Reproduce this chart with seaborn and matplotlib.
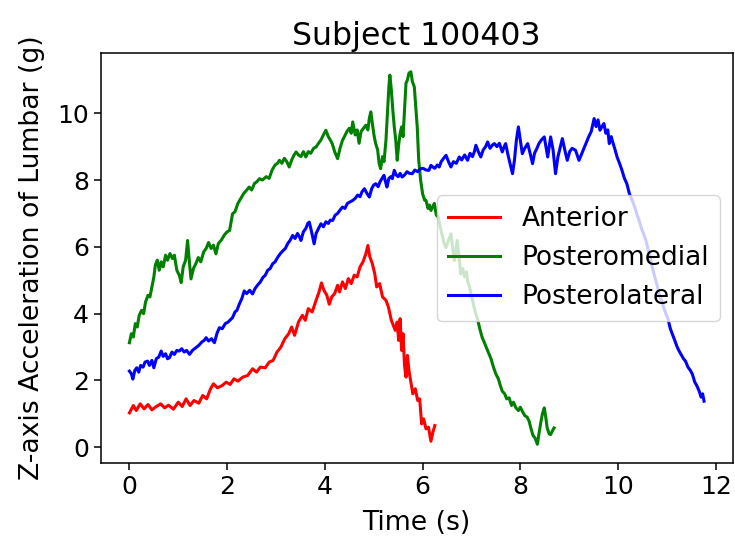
import numpy as np
import pandas as pd
import matplotlib
matplotlib.use("Agg")
import matplotlib.pyplot as plt
import seaborn as sns

# Anterior reach
anterior_t = [0.00, 0.08, 0.14, 0.22, 0.30, 0.38, 0.46, 0.55, 0.64, 0.72, 0.80, 0.90,
              1.00, 1.08, 1.16, 1.24, 1.32, 1.42, 1.50, 1.58, 1.66, 1.72, 1.80, 1.90,
              1.98, 2.06, 2.14, 2.22, 2.32, 2.42, 2.52, 2.60, 2.68, 2.78, 2.86, 2.94,
              3.02, 3.10, 3.18, 3.26, 3.32, 3.38, 3.46, 3.54, 3.60, 3.66, 3.74, 3.82,
              3.88, 3.93, 3.98, 4.04, 4.09, 4.14, 4.20, 4.26, 4.30, 4.36, 4.42, 4.48,
              4.54, 4.60, 4.66, 4.72, 4.78, 4.84, 4.88, 4.92, 4.97, 5.02, 5.06, 5.12,
              5.18, 5.25, 5.30, 5.36, 5.40, 5.44, 5.48, 5.51, 5.54, 5.57, 5.60, 5.63,
              5.66, 5.69, 5.72, 5.76, 5.80, 5.85, 5.90, 5.94, 5.98, 6.02, 6.07, 6.12,
              6.17, 6.21, 6.25]
anterior_g = [1.03, 1.25, 1.10, 1.30, 1.15, 1.28, 1.12, 1.22, 1.30, 1.18, 1.26, 1.14,
              1.35, 1.22, 1.45, 1.25, 1.40, 1.32, 1.55, 1.45, 1.75, 1.90, 1.78, 1.85,
              1.95, 1.88, 2.05, 1.98, 2.10, 2.15, 2.35, 2.25, 2.40, 2.38, 2.55, 2.60,
              2.85, 3.00, 3.25, 3.40, 3.60, 3.35, 3.75, 3.95, 3.80, 4.15, 4.05, 4.40,
              4.65, 4.92, 4.70, 4.55, 4.28, 4.50, 4.60, 4.85, 4.65, 4.95, 4.75, 5.05,
              4.90, 5.15, 5.10, 5.40, 5.55, 5.80, 6.04, 5.70, 5.50, 5.20, 4.80, 4.90,
              4.50, 4.40, 4.20, 3.80, 3.65, 3.50, 3.75, 3.20, 3.85, 2.90, 3.40, 2.45,
              2.10, 2.75, 2.30, 1.95, 1.60, 1.75, 1.40, 1.45, 0.70, 0.85, 0.55, 0.60,
              0.18, 0.45, 0.65]

# Posteromedial reach
posteromedial_t = [0.00, 0.04, 0.08, 0.12, 0.16, 0.20, 0.25, 0.29, 0.33, 0.38, 0.42, 0.46,
                   0.50, 0.53, 0.57, 0.61, 0.65, 0.69, 0.74, 0.78, 0.83, 0.88, 0.92, 0.97,
                   1.02, 1.06, 1.10, 1.15, 1.19, 1.23, 1.26, 1.31, 1.36, 1.41, 1.46, 1.52,
                   1.57, 1.62, 1.67, 1.72, 1.77, 1.82, 1.88, 1.94, 2.00, 2.05, 2.11, 2.16,
                   2.22, 2.28, 2.34, 2.40, 2.45, 2.50, 2.56, 2.61, 2.66, 2.72, 2.80, 2.86,
                   2.92, 2.98, 3.03, 3.07, 3.12, 3.17, 3.22, 3.27, 3.32, 3.37, 3.41, 3.46,
                   3.51, 3.56, 3.61, 3.66, 3.71, 3.77, 3.82, 3.87, 3.92, 3.97, 4.02, 4.07,
                   4.11, 4.15, 4.20, 4.26, 4.31, 4.36, 4.40, 4.45, 4.50, 4.54, 4.57, 4.62,
                   4.66, 4.70, 4.74, 4.79, 4.84, 4.88, 4.91, 4.94, 4.98, 5.01, 5.04, 5.08,
                   5.11, 5.14, 5.18, 5.21, 5.25, 5.28, 5.31, 5.33, 5.36, 5.39, 5.42, 5.45,
                   5.48, 5.51, 5.54, 5.57, 5.60, 5.63, 5.66, 5.69, 5.72, 5.76, 5.79, 5.83,
                   5.86, 5.89, 5.92, 5.96, 6.00, 6.04, 6.07, 6.11, 6.14, 6.17, 6.20, 6.24,
                   6.28, 6.32, 6.36, 6.40, 6.44, 6.48, 6.53, 6.58, 6.62, 6.65, 6.68, 6.71,
                   6.75, 6.78, 6.82, 6.86, 6.90, 6.92, 6.96, 6.99, 7.03, 7.06, 7.09, 7.13,
                   7.17, 7.22, 7.26, 7.30, 7.36, 7.40, 7.45, 7.50, 7.55, 7.59, 7.63, 7.68,
                   7.72, 7.77, 7.82, 7.86, 7.91, 7.96, 8.00, 8.04, 8.09, 8.14, 8.18, 8.22,
                   8.26, 8.30, 8.35, 8.38, 8.42, 8.45, 8.49, 8.52, 8.55, 8.59, 8.62, 8.66,
                   8.69]
posteromedial_g = [3.13, 3.40, 3.30, 3.70, 3.60, 3.95, 4.10, 4.00, 4.35, 4.55, 4.50, 4.80,
                   5.10, 5.45, 5.60, 5.30, 5.55, 5.40, 5.75, 5.60, 5.80, 5.65, 5.75, 5.30,
                   5.15, 4.93, 5.40, 5.60, 6.19, 5.50, 5.04, 5.35, 5.50, 5.68, 5.55, 5.85,
                   5.95, 6.13, 5.95, 6.05, 5.79, 6.10, 6.20, 6.35, 6.45, 6.49, 6.99, 7.05,
                   7.30, 7.45, 7.60, 7.70, 7.79, 7.70, 7.90, 7.95, 8.04, 8.00, 8.10, 8.05,
                   8.30, 8.45, 8.50, 8.59, 8.50, 8.65, 8.55, 8.39, 8.60, 8.75, 8.84, 8.75,
                   8.70, 8.85, 8.69, 8.85, 8.80, 8.95, 8.99, 9.10, 9.20, 9.35, 9.49, 9.30,
                   9.20, 9.09, 8.85, 8.64, 8.95, 9.19, 9.30, 9.45, 9.55, 9.40, 9.74, 9.35,
                   9.50, 9.10, 9.45, 9.55, 9.64, 9.50, 9.85, 10.04, 9.60, 9.30, 9.09, 8.90,
                   8.50, 8.34, 8.70, 8.55, 9.19, 10.00, 10.80, 11.14, 10.70, 10.10, 9.59, 9.20,
                   8.59, 9.05, 9.40, 9.59, 9.30, 10.10, 10.90, 11.00, 11.20, 11.24, 10.95, 10.79,
                   10.20, 9.59, 8.60, 7.99, 7.59, 7.40, 7.39, 7.15, 7.25, 7.09, 7.18, 7.30,
                   6.95, 6.89, 6.60, 6.35, 6.10, 5.98, 6.20, 6.39, 5.90, 5.59, 5.90, 6.19,
                   5.60, 5.19, 5.35, 5.10, 5.25, 4.99, 4.80, 4.59, 4.35, 4.15, 3.99, 3.80,
                   3.55, 3.28, 3.15, 3.00, 2.79, 2.65, 2.40, 2.19, 2.05, 1.85, 1.68, 1.60,
                   1.45, 1.48, 1.25, 1.35, 1.18, 1.10, 1.20, 1.08, 0.95, 0.90, 0.78, 0.55,
                   0.35, 0.28, 0.09, 0.40, 0.75, 0.99, 1.18, 0.90, 0.58, 0.40, 0.38, 0.50,
                   0.58]

# Posterolateral reach
posterolateral_t = [0.00, 0.04, 0.07, 0.11, 0.15, 0.19, 0.23, 0.28, 0.32, 0.37, 0.41, 0.46,
                    0.50, 0.55, 0.60, 0.65, 0.69, 0.74, 0.78, 0.82, 0.87, 0.92, 0.97, 1.02,
                    1.07, 1.12, 1.17, 1.23, 1.29, 1.36, 1.42, 1.48, 1.53, 1.57, 1.62, 1.68,
                    1.74, 1.79, 1.84, 1.90, 1.96, 2.02, 2.07, 2.11, 2.16, 2.20, 2.25, 2.30,
                    2.35, 2.40, 2.46, 2.52, 2.57, 2.62, 2.68, 2.73, 2.78, 2.83, 2.88, 2.93,
                    2.98, 3.04, 3.09, 3.14, 3.19, 3.24, 3.29, 3.34, 3.39, 3.44, 3.48, 3.51,
                    3.56, 3.61, 3.65, 3.68, 3.72, 3.75, 3.78, 3.82, 3.87, 3.92, 3.97, 4.02,
                    4.07, 4.11, 4.16, 4.21, 4.26, 4.31, 4.36, 4.41, 4.46, 4.52, 4.57, 4.62,
                    4.67, 4.72, 4.76, 4.81, 4.86, 4.91, 4.96, 5.00, 5.04, 5.09, 5.13, 5.17,
                    5.21, 5.24, 5.27, 5.31, 5.35, 5.38, 5.42, 5.46, 5.50, 5.54, 5.58, 5.63,
                    5.68, 5.73, 5.79, 5.84, 5.90, 5.96, 6.01, 6.07, 6.13, 6.17, 6.20, 6.25,
                    6.30, 6.34, 6.38, 6.43, 6.48, 6.53, 6.58, 6.63, 6.69, 6.75, 6.80, 6.86,
                    6.92, 6.97, 7.02, 7.06, 7.09, 7.14, 7.19, 7.24, 7.29, 7.33, 7.38, 7.43,
                    7.47, 7.52, 7.57, 7.63, 7.67, 7.70, 7.74, 7.78, 7.84, 7.88, 7.92, 7.96,
                    8.00, 8.04, 8.09, 8.15, 8.20, 8.25, 8.29, 8.34, 8.38, 8.43, 8.49, 8.56,
                    8.62, 8.67, 8.72, 8.77, 8.82, 8.86, 8.91, 8.96, 9.01, 9.06, 9.13, 9.20,
                    9.26, 9.34, 9.40, 9.45, 9.51, 9.55, 9.59, 9.63, 9.67, 9.71, 9.75, 9.79,
                    9.82, 9.86, 9.88, 9.93, 9.98, 10.03, 10.08, 10.13, 10.18, 10.23, 10.29, 10.34,
                    10.38, 10.43, 10.48, 10.52, 10.57, 10.61, 10.66, 10.70, 10.75, 10.80, 10.84, 10.89,
                    10.93, 10.98, 11.02, 11.07, 11.11, 11.16, 11.21, 11.25, 11.30, 11.34, 11.38, 11.43,
                    11.48, 11.52, 11.57, 11.61, 11.66, 11.70, 11.73, 11.76]
posterolateral_g = [2.28, 2.20, 2.04, 2.30, 2.38, 2.25, 2.45, 2.40, 2.55, 2.58, 2.45, 2.60,
                    2.38, 2.65, 2.70, 2.88, 2.72, 2.80, 2.65, 2.68, 2.85, 2.78, 2.90, 2.88,
                    2.95, 2.85, 2.90, 2.78, 2.90, 2.98, 3.05, 3.15, 3.20, 3.28, 3.18, 3.25,
                    3.13, 3.40, 3.58, 3.55, 3.70, 3.75, 3.82, 3.88, 4.05, 4.10, 4.29, 4.45,
                    4.68, 4.60, 4.70, 4.59, 4.75, 4.85, 4.95, 5.08, 5.15, 5.30, 5.35, 5.49,
                    5.55, 5.70, 5.80, 5.88, 5.95, 6.10, 6.20, 6.34, 6.25, 6.40, 6.30, 6.19,
                    6.45, 6.55, 6.70, 6.74, 6.50, 6.30, 6.09, 6.40, 6.55, 6.69, 6.60, 6.75,
                    6.70, 6.80, 6.79, 6.95, 7.00, 7.10, 7.19, 7.15, 7.30, 7.35, 7.39, 7.45,
                    7.55, 7.50, 7.65, 7.74, 7.60, 7.49, 7.75, 7.85, 7.89, 7.80, 7.95, 8.05,
                    8.14, 7.95, 7.79, 8.05, 8.10, 8.04, 8.29, 8.15, 8.10, 8.20, 8.09, 8.15,
                    8.25, 8.20, 8.19, 8.30, 8.25, 8.34, 8.35, 8.30, 8.29, 8.44, 8.40, 8.35,
                    8.45, 8.39, 8.55, 8.65, 8.74, 8.55, 8.39, 8.55, 8.50, 8.69, 8.60, 8.75,
                    8.59, 8.80, 8.70, 8.85, 9.04, 8.85, 8.69, 8.90, 9.00, 9.14, 8.95, 9.05,
                    9.09, 9.00, 9.10, 8.84, 9.00, 9.09, 8.80, 8.55, 8.19, 8.60, 9.20, 9.59,
                    9.20, 8.79, 8.95, 9.09, 8.80, 8.49, 8.80, 8.95, 9.09, 9.20, 9.29, 8.69,
                    9.29, 8.90, 8.19, 8.70, 9.00, 9.24, 8.90, 8.59, 8.85, 8.95, 8.89, 8.59,
                    8.80, 9.09, 9.30, 9.45, 9.84, 9.60, 9.80, 9.49, 9.60, 9.69, 9.40, 9.50,
                    9.09, 9.30, 9.19, 8.95, 8.69, 8.50, 8.29, 8.05, 7.89, 7.60, 7.39, 7.20,
                    7.00, 6.79, 6.55, 6.40, 6.19, 5.95, 5.65, 5.39, 5.10, 4.85, 4.59, 4.40,
                    4.20, 3.99, 3.85, 3.55, 3.39, 3.20, 3.00, 2.88, 2.75, 2.65, 2.58, 2.40,
                    2.30, 2.19, 1.95, 1.85, 1.68, 1.50, 1.60, 1.38]

directions = ["Anterior", "Posteromedial", "Posterolateral"]
colors = ["red", "green", "blue"]

frames = []
for name, t, g in zip(directions,
                      [anterior_t, posteromedial_t, posterolateral_t],
                      [anterior_g, posteromedial_g, posterolateral_g]):
    frames.append(pd.DataFrame({"Time (s)": t, "Acc": g, "Direction": name}))
df = pd.concat(frames, ignore_index=True)

fig, ax = plt.subplots(figsize=(7.35, 5.37), dpi=100)
fig.subplots_adjust(left=0.137, right=0.997, bottom=0.138, top=0.901)

sns.lineplot(data=df, x="Time (s)", y="Acc", hue="Direction",
             palette=dict(zip(directions, colors)), hue_order=directions,
             estimator=None, sort=False, linewidth=2.2, ax=ax)

ax.set_title("Subject 100403", fontsize=22.7)
ax.set_xlabel("Time (s)", fontsize=19.2, labelpad=8)
ax.set_ylabel("Z-axis Acceleration of Lumbar (g)", fontsize=19.2, labelpad=9)
ax.set_xticks([0, 2, 4, 6, 8, 10, 12])
ax.set_yticks([0, 2, 4, 6, 8, 10])
ax.tick_params(labelsize=18, length=5, width=1.1)
for s in ax.spines.values():
    s.set_linewidth(1.1)

sns.move_legend(ax, "center right", title=None, fontsize=19, frameon=True)

fig.savefig("out.png", dpi=100)
